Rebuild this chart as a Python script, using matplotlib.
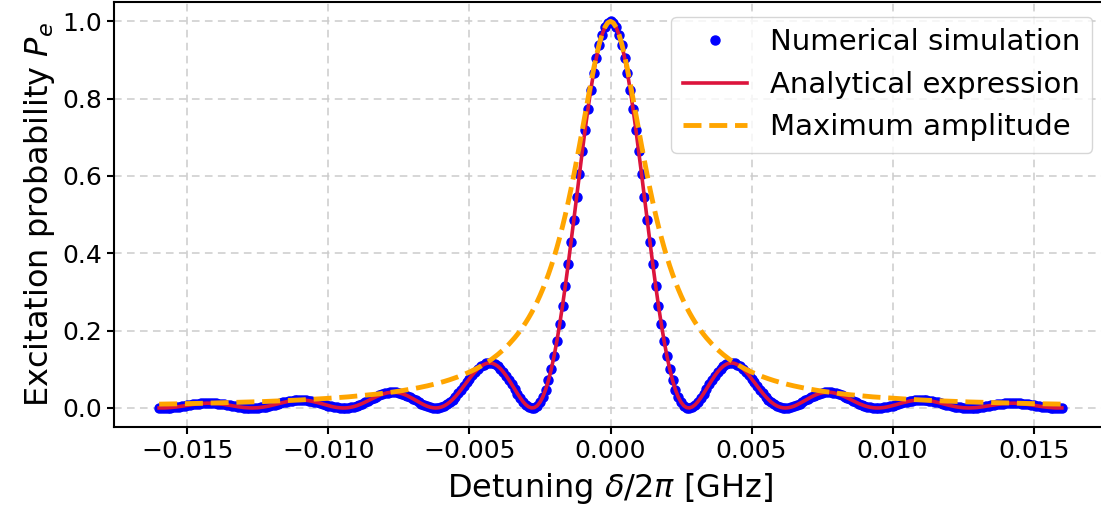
import numpy as np
import matplotlib
matplotlib.use("Agg")
import matplotlib.pyplot as plt

# Detuning grid (GHz), symmetric, step 1e-4
detuning = np.linspace(-0.016, 0.016, 321)

# Excitation probability read for detuning = 0, 0.0001, ..., 0.016 (curve is symmetric)
prob_half = [
    1.0000, 0.9961, 0.9845, 0.9653, 0.9390, 0.9059, 0.8667, 0.8221, 0.7728, 0.7197,
    0.6636, 0.6055, 0.5463, 0.4869, 0.4283, 0.3713, 0.3166, 0.2650, 0.2171, 0.1734,
    0.1344, 0.1002, 0.0712, 0.0474, 0.0286, 0.0148, 0.0057, 0.0009, 0.0001, 0.0028,
    0.0084, 0.0164, 0.0263, 0.0373, 0.0491, 0.0611, 0.0727, 0.0836, 0.0933, 0.1016,
    0.1082, 0.1129, 0.1157, 0.1164, 0.1152, 0.1122, 0.1074, 0.1012, 0.0936, 0.0851,
    0.0759, 0.0663, 0.0566, 0.0470, 0.0378, 0.0293, 0.0217, 0.0150, 0.0096, 0.0053,
    0.0023, 0.0005, 0.0000, 0.0006, 0.0022, 0.0046, 0.0078, 0.0115, 0.0155, 0.0197,
    0.0239, 0.0278, 0.0315, 0.0346, 0.0372, 0.0391, 0.0402, 0.0407, 0.0403, 0.0393,
    0.0375, 0.0352, 0.0324, 0.0292, 0.0257, 0.0221, 0.0185, 0.0149, 0.0115, 0.0085,
    0.0058, 0.0036, 0.0019, 0.0007, 0.0001, 0.0000, 0.0005, 0.0013, 0.0026, 0.0042,
    0.0061, 0.0081, 0.0102, 0.0123, 0.0143, 0.0161, 0.0177, 0.0190, 0.0199, 0.0204,
    0.0206, 0.0203, 0.0198, 0.0188, 0.0176, 0.0161, 0.0144, 0.0125, 0.0106, 0.0088,
    0.0069, 0.0052, 0.0037, 0.0024, 0.0014, 0.0006, 0.0002, 0.0000, 0.0002, 0.0006,
    0.0012, 0.0021, 0.0032, 0.0044, 0.0056, 0.0069, 0.0081, 0.0092, 0.0102, 0.0111,
    0.0117, 0.0122, 0.0124, 0.0124, 0.0121, 0.0116, 0.0109, 0.0101, 0.0091, 0.0080,
    0.0069, 0.0057, 0.0046, 0.0035, 0.0025, 0.0017, 0.0010, 0.0005, 0.0001, 0.0000,
    0.0001,
]

# Maximum amplitude (envelope) read for detuning = 0, 0.0001, ..., 0.016
max_amp_half = [
    1.0000, 0.9961, 0.9846, 0.9660, 0.9412, 0.9110, 0.8767, 0.8393, 0.8000, 0.7596,
    0.7191, 0.6790, 0.6400, 0.6024, 0.5664, 0.5322, 0.5000, 0.4697, 0.4414, 0.4149,
    0.3902, 0.3673, 0.3459, 0.3261, 0.3077, 0.2906, 0.2747, 0.2599, 0.2462, 0.2334,
    0.2215, 0.2104, 0.2000, 0.1903, 0.1813, 0.1729, 0.1649, 0.1575, 0.1506, 0.1441,
    0.1379, 0.1322, 0.1267, 0.1216, 0.1168, 0.1122, 0.1079, 0.1039, 0.1000, 0.0963,
    0.0929, 0.0896, 0.0865, 0.0835, 0.0807, 0.0780, 0.0755, 0.0730, 0.0707, 0.0685,
    0.0664, 0.0644, 0.0624, 0.0606, 0.0588, 0.0571, 0.0555, 0.0540, 0.0525, 0.0510,
    0.0497, 0.0483, 0.0471, 0.0458, 0.0447, 0.0435, 0.0424, 0.0414, 0.0404, 0.0394,
    0.0385, 0.0376, 0.0367, 0.0358, 0.0350, 0.0342, 0.0335, 0.0327, 0.0320, 0.0313,
    0.0306, 0.0300, 0.0294, 0.0287, 0.0282, 0.0276, 0.0270, 0.0265, 0.0260, 0.0255,
    0.0250, 0.0245, 0.0240, 0.0236, 0.0231, 0.0227, 0.0223, 0.0219, 0.0215, 0.0211,
    0.0207, 0.0204, 0.0200, 0.0197, 0.0193, 0.0190, 0.0187, 0.0184, 0.0181, 0.0178,
    0.0175, 0.0172, 0.0169, 0.0166, 0.0164, 0.0161, 0.0159, 0.0156, 0.0154, 0.0152,
    0.0149, 0.0147, 0.0145, 0.0143, 0.0141, 0.0139, 0.0137, 0.0135, 0.0133, 0.0131,
    0.0129, 0.0127, 0.0125, 0.0124, 0.0122, 0.0120, 0.0119, 0.0117, 0.0116, 0.0114,
    0.0112, 0.0111, 0.0110, 0.0108, 0.0107, 0.0105, 0.0104, 0.0103, 0.0102, 0.0100,
    0.0099,
]

# Assemble full symmetric series (mirror of the read half-profiles)
prob = np.concatenate([np.array(prob_half)[:0:-1], np.array(prob_half)])
max_amp = np.concatenate([np.array(max_amp_half)[:0:-1], np.array(max_amp_half)])

W, H, DPI = 1101, 519, 100
fig = plt.figure(figsize=(W / DPI, H / DPI), dpi=DPI)
ax = fig.add_axes([114 / W, 1 - 427.3 / H, (1107 - 114) / W, (427.3 - 2) / H])

ax.plot(detuning, prob, 'o', color='blue', markersize=6.5, label='Numerical simulation')
ax.plot(detuning, prob, '-', color='crimson', linewidth=2.6, label='Analytical expression')
ax.plot(detuning, max_amp, '--', color='orange', linewidth=3.5, label='Maximum amplitude')

ax.grid(True, linestyle='--', color='#cccccc', linewidth=1.1, dashes=(5, 3.5))
ax.set_axisbelow(True)
for s in ax.spines.values():
    s.set_linewidth(1.5)
ax.tick_params(labelsize=18, width=1.5, length=5)
ax.set_xlabel(r'Detuning $\delta/2\pi$ [GHz]', fontsize=23, labelpad=6)
ax.set_ylabel(r'Excitation probability $P_e$', fontsize=23)
ax.legend(loc='upper right', fontsize=21, handlelength=2.2)

fig.savefig('out.png', dpi=DPI)
